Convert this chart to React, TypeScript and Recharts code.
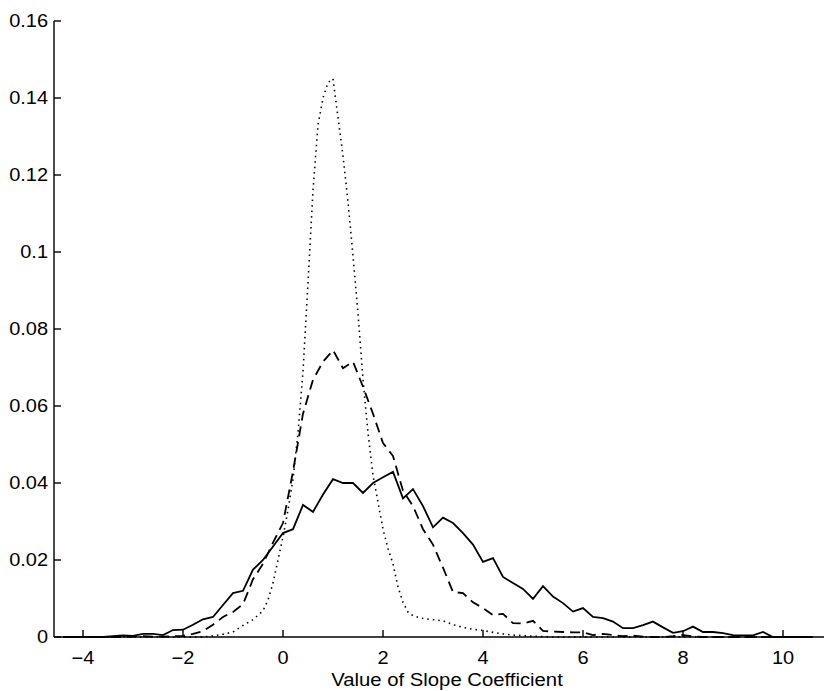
import { LineChart, Line, XAxis, YAxis } from 'recharts';

// bin centres shared by the solid and dashed histograms
const binX = [
  -4.4, -4.2, -4.0, -3.8, -3.6, -3.4, -3.2, -3.0, -2.8, -2.6, -2.4, -2.2, -2.0, -1.8, -1.6, -1.4,
  -1.2, -1.0, -0.8, -0.6, -0.4, -0.2, 0.0, 0.2, 0.4, 0.6, 0.8, 1.0, 1.2, 1.4, 1.6, 1.8,
  2.0, 2.2, 2.4, 2.6, 2.8, 3.0, 3.2, 3.4, 3.6, 3.8, 4.0, 4.2, 4.4, 4.6, 4.8, 5.0,
  5.2, 5.4, 5.6, 5.8, 6.0, 6.2, 6.4, 6.6, 6.8, 7.0, 7.2, 7.4, 7.6, 7.8, 8.0, 8.2,
  8.4, 8.6, 8.8, 9.0, 9.2, 9.4, 9.6, 9.8, 10.0, 10.2, 10.4, 10.6,
];

const solidY = [
  0, 0, 0, 0, 0, 0.0002, 0.0004, 0.0003, 0.0008, 0.0008, 0.0005, 0.0018, 0.0019, 0.0032, 0.0046, 0.0052,
  0.0083, 0.0114, 0.012, 0.0175, 0.02, 0.0235, 0.027, 0.028, 0.0343, 0.0325, 0.037, 0.041, 0.04, 0.04, 0.0374, 0.04,
  0.0415, 0.0429, 0.036, 0.0384, 0.034, 0.0285, 0.031, 0.0296, 0.027, 0.024, 0.0195, 0.0205, 0.0156, 0.014, 0.0125, 0.0099,
  0.0132, 0.0105, 0.0088, 0.0066, 0.0075, 0.0052, 0.0049, 0.004, 0.0023, 0.0023, 0.0031, 0.004, 0.0025, 0.0011, 0.0015, 0.0027,
  0.0013, 0.0013, 0.001, 0.0005, 0.0004, 0.0004, 0.0013, 0, 0, 0, 0, 0,
];

const dashedY = [
  0, 0, 0, 0, 0, 0, 0, 0.0001, 0.0002, 0.0001, 0.0001, 0.0002, 0.0003, 0.0008, 0.0015, 0.0032,
  0.0052, 0.0065, 0.0085, 0.015, 0.019, 0.0245, 0.0296, 0.043, 0.058, 0.0668, 0.0715, 0.0745, 0.0698, 0.0715, 0.065, 0.058,
  0.0504, 0.047, 0.038, 0.034, 0.028, 0.024, 0.018, 0.0117, 0.0114, 0.009, 0.0075, 0.0057, 0.006, 0.0036, 0.0035, 0.0042,
  0.0016, 0.0014, 0.0013, 0.0012, 0.0012, 0.0005, 0.0008, 0.0005, 0.0002, 0.0004, 0.0001, 0, 0, 0.0002, 0.0005, 0.0002,
  0, 0, 0, 0, 0, 0, 0, 0, 0, 0, 0, 0,
];

// the dotted curve is sampled finer around its peak
const dottedX = [
  -4.4, -2.0, -1.6, -1.4, -1.2, -1.0, -0.8, -0.6, -0.4, -0.3, -0.2, -0.1, 0.0, 0.1, 0.2, 0.3,
  0.4, 0.5, 0.6, 0.7, 0.8, 0.9, 1.0, 1.1, 1.2, 1.3, 1.4, 1.5, 1.6, 1.7, 1.8, 1.9,
  2.0, 2.1, 2.2, 2.3, 2.4, 2.5, 2.6, 2.8, 3.0, 3.2, 3.4, 3.6, 3.8, 4.0, 4.2, 4.4,
  4.6, 5.0, 5.4, 10.6,
];
const dottedY = [
  0, 0, 0, 0.0003, 0.0007, 0.0013, 0.003, 0.0045, 0.0068, 0.0096, 0.014, 0.02, 0.026, 0.033, 0.041, 0.053,
  0.069, 0.092, 0.116, 0.133, 0.14, 0.144, 0.145, 0.135, 0.125, 0.113, 0.099, 0.084, 0.067, 0.053, 0.042, 0.035,
  0.028, 0.023, 0.019, 0.013, 0.009, 0.0065, 0.0055, 0.0048, 0.0045, 0.0042, 0.0032, 0.0025, 0.002, 0.0017, 0.0012, 0.0008,
  0.0005, 0.0002, 0, 0,
];

const xTicks = [-4, -2, 0, 2, 4, 6, 8, 10];
const yTicks = [0, 0.02, 0.04, 0.06, 0.08, 0.1, 0.12, 0.14, 0.16];

const solidData = binX.map((x, i) => ({ x, y: solidY[i] }));
const dashedData = binX.map((x, i) => ({ x, y: dashedY[i] }));
const dottedData = dottedX.map((x, i) => ({ x, y: dottedY[i] }));

const INK = '#000';
const FONT = '"Liberation Sans", Arial, Helvetica, sans-serif';
// the scanned figure's lettering is a bit wider than Arial
const STRETCH = 1.11;

const fmtX = (v: number) => (v < 0 ? `\u2212${Math.abs(v)}` : `${v}`);

const BottomTick = ({ x, y, payload }: any) => (
  <g>
    <line x1={x} x2={x} y1={y} y2={y - 7} stroke={INK} strokeWidth={1.4} />
    <text
      transform={`translate(${x},${y + 27}) scale(${STRETCH},1)`}
      textAnchor="middle"
      fontSize={18}
      fill="#000"
      fontFamily={FONT}
    >
      {fmtX(payload.value)}
    </text>
  </g>
);

const TopTick = ({ x, y }: any) => (
  <line x1={x} x2={x} y1={y} y2={y + 7} stroke={INK} strokeWidth={1.4} />
);

const LeftTick = ({ x, y, payload }: any) => (
  <g>
    <line x1={x} x2={x + 7} y1={y} y2={y} stroke={INK} strokeWidth={1.4} />
    <text
      transform={`translate(${x - 6},${y}) scale(${STRETCH},1)`}
      dy="0.36em"
      textAnchor="end"
      fontSize={18}
      fill="#000"
      fontFamily={FONT}
    >
      {payload.value}
    </text>
  </g>
);

const AxisTitle = ({ viewBox }: any) => {
  const cx = viewBox.x + viewBox.width / 2 + 8;
  const by = viewBox.y + viewBox.height - 5;
  return (
    <text
      transform={`translate(${cx},${by}) scale(1.16,1)`}
      textAnchor="middle"
      fontSize={17.5}
      fill="#000"
      fontFamily={FONT}
    >
      Value of Slope Coefficient
    </text>
  );
};

export default function App() {
  return (
    <div style={{ position: 'absolute', left: 0, top: 0, background: '#fff' }}>
      <LineChart
        width={824}
        height={691}
        margin={{ top: 21, right: 0, bottom: 0, left: 0 }}
        style={{ fontFamily: FONT }}
      >
        <XAxis
          xAxisId="bottom"
          type="number"
          dataKey="x"
          domain={[-4.58, 10.82]}
          allowDataOverflow
          ticks={xTicks}
          interval={0}
          height={54}
          tickSize={0}
          tickMargin={0}
          tickLine={false}
          tick={<BottomTick />}
          axisLine={{ stroke: INK, strokeWidth: 1.4 }}
          label={{ content: <AxisTitle /> }}
        />
        <XAxis
          xAxisId="top"
          orientation="top"
          type="number"
          dataKey="x"
          domain={[-4.58, 10.82]}
          allowDataOverflow
          ticks={xTicks}
          interval={0}
          height={0}
          tickSize={0}
          tickMargin={0}
          tickLine={false}
          tick={<TopTick />}
          axisLine={{ stroke: INK, strokeWidth: 1.4 }}
        />
        <YAxis
          type="number"
          domain={[0, 0.16]}
          ticks={yTicks}
          interval={0}
          width={54}
          tickSize={0}
          tickMargin={0}
          tickLine={false}
          tick={<LeftTick />}
          axisLine={{ stroke: INK, strokeWidth: 1.4 }}
        />
        <Line
          xAxisId="bottom"
          data={dottedData}
          dataKey="y"
          type="linear"
          stroke={INK}
          strokeWidth={1.6}
          strokeDasharray="1.5 4"
          dot={false}
          isAnimationActive={false}
        />
        <Line
          xAxisId="bottom"
          data={dashedData}
          dataKey="y"
          type="linear"
          stroke={INK}
          strokeWidth={1.8}
          strokeDasharray="10 6"
          dot={false}
          isAnimationActive={false}
        />
        <Line
          xAxisId="bottom"
          data={solidData}
          dataKey="y"
          type="linear"
          stroke={INK}
          strokeWidth={1.8}
          dot={false}
          isAnimationActive={false}
        />
      </LineChart>
    </div>
  );
}
